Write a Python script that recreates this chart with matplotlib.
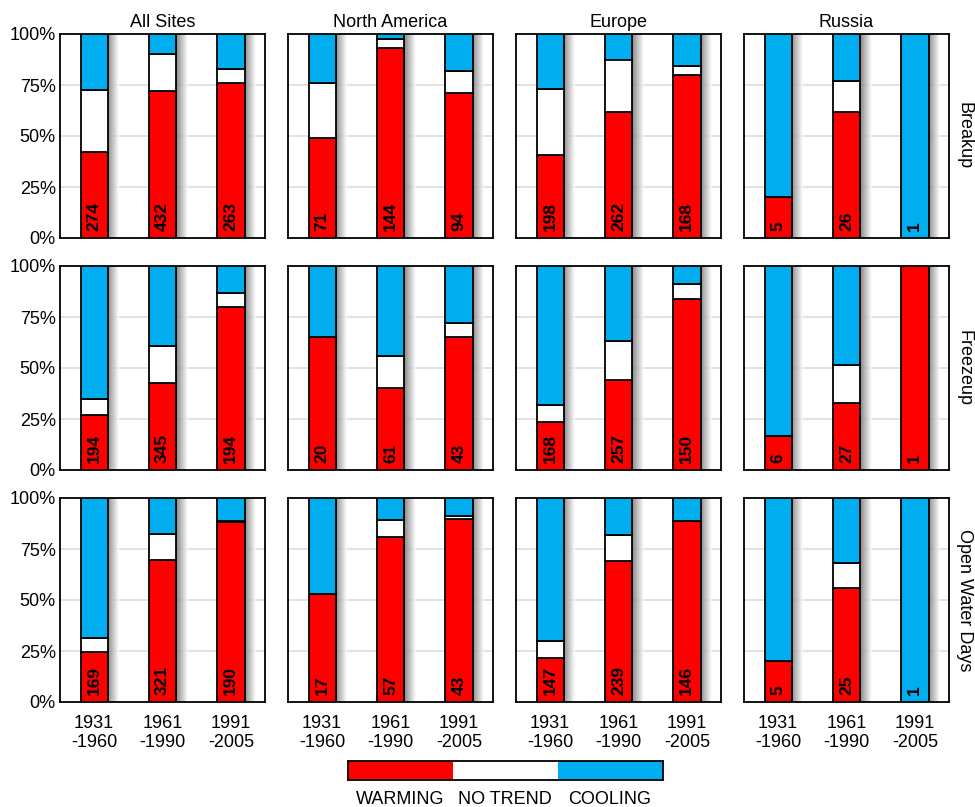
import numpy as np
import matplotlib
matplotlib.use("Agg")
import matplotlib.pyplot as plt

plt.rcParams['font.family'] = ['Liberation Sans', 'DejaVu Sans']

regions = ["All Sites", "North America", "Europe", "Russia"]
metrics = ["Breakup", "Freezeup", "Open Water Days"]
periods = ["1931\n-1960", "1961\n-1990", "1991\n-2005"]

# percent of sites per period, one list per region
breakup_warming = [[42, 72, 76], [49, 93, 71], [40.5, 62, 80], [20, 62, 0]]
breakup_notrend = [[30.5, 18, 7], [27, 4.5, 11], [32.5, 25.5, 4.5], [0, 15, 0]]
breakup_cooling = [[27.5, 10, 17], [24, 2.5, 18], [27, 12.5, 15.5], [80, 23, 100]]
breakup_counts = [[274, 432, 263], [71, 144, 94], [198, 262, 168], [5, 26, 1]]

freezeup_warming = [[27, 42.5, 80], [65, 40, 65], [23.5, 44, 84], [16.7, 33, 100]]
freezeup_notrend = [[8, 18.5, 7], [0, 16, 7], [8.5, 19, 7], [0, 18.6, 0]]
freezeup_cooling = [[65, 39, 13], [35, 44, 28], [68, 37, 9], [83.3, 48.4, 0]]
freezeup_counts = [[194, 345, 194], [20, 61, 43], [168, 257, 150], [6, 27, 1]]

openwater_warming = [[24.7, 69.6, 88.2], [53, 81, 89.5], [21.6, 69, 88.7], [20, 56, 0]]
openwater_notrend = [[6.5, 12.8, 0.5], [0, 8, 1.5], [8.4, 13, 0], [0, 12, 0]]
openwater_cooling = [[68.8, 17.6, 11.3], [47, 11, 9], [70, 18, 11.3], [80, 32, 100]]
openwater_counts = [[169, 321, 190], [17, 57, 43], [147, 239, 146], [5, 25, 1]]

legend_labels = ["WARMING", "NO TREND", "COOLING"]

RED = "#ff0000"
BLUE = "#00aeef"
colors = [RED, "white", BLUE]

rows = [
    (breakup_warming, breakup_notrend, breakup_cooling, breakup_counts),
    (freezeup_warming, freezeup_notrend, freezeup_cooling, freezeup_counts),
    (openwater_warming, openwater_notrend, openwater_cooling, openwater_counts),
]

W, H = 975, 807
fig = plt.figure(figsize=(W / 100, H / 100), dpi=100)

col_left = [60, 288, 516, 744]
row_top = [34, 266, 498]
pw, ph = 205, 204

bw = 0.4
FS = 13
shadow = np.linspace(0, 1, 32).reshape(1, -1)


def add_shadow(ax, x0, x1, y0, y1):
    ax.imshow(shadow, extent=[x0, x1, y0, y1], aspect='auto', cmap='gray',
              vmin=-0.6, vmax=1.0, alpha=0.8, zorder=1, interpolation='bilinear')


for r, (warm, notr, cool, cnt) in enumerate(rows):
    for c in range(4):
        left = col_left[c] / W
        bottom = (H - row_top[r] - ph) / H
        ax = fig.add_axes([left, bottom, pw / W, ph / H])
        x = np.arange(3)
        for i in x:
            add_shadow(ax, i + bw / 2 - 0.02, i + bw / 2 + 0.16, 0, 100)
            base = 0
            for seg, col in zip([warm[c][i], notr[c][i], cool[c][i]], colors):
                if seg > 0:
                    ax.bar(i, seg, bw, bottom=base, color=col, edgecolor='black',
                           linewidth=1.3, zorder=3)
                base += seg
            ax.text(i, 3.5, str(cnt[c][i]), rotation=90, ha='center', va='bottom',
                    fontsize=12.5, fontweight='bold', zorder=4)
        ax.set_xlim(-0.5, 2.5)
        ax.set_ylim(0, 100)
        ax.set_yticks([0, 25, 50, 75, 100])
        for g in [25, 50, 75]:
            ax.axhline(g, color='#dddddd', linewidth=1.2, zorder=0)
        ax.set_xticks(x)
        ax.tick_params(length=0, labelsize=FS, pad=3)
        if c == 0:
            ax.set_yticklabels(["0%", "25%", "50%", "75%", "100%"])
        else:
            ax.set_yticklabels([])
        if r == 2:
            ax.set_xticklabels(periods, linespacing=1.2)
            ax.tick_params(axis='x', pad=9)
        else:
            ax.set_xticklabels([])
        for s in ax.spines.values():
            s.set_linewidth(1.3)
            s.set_color('black')
        if r == 0:
            ax.set_title(regions[c], fontsize=FS, pad=5)
        if c == 3:
            ax.text(1.075, 0.5, metrics[r], transform=ax.transAxes, rotation=270,
                    ha='center', va='center', fontsize=FS)

# colour key along the bottom
lax = fig.add_axes([348 / W, (H - 780) / H, 315 / W, 19 / H])
for k, col in enumerate(colors):
    lax.barh(0, 1, left=k, height=1, color=col, edgecolor='none', zorder=2)
lax.set_xlim(0, 3)
lax.set_ylim(-0.5, 0.5)
lax.set_xticks([])
lax.set_yticks([])
for s in lax.spines.values():
    s.set_linewidth(1.3)
for k, lab in enumerate(legend_labels):
    fig.text((348 + 52 + k * 105) / W, 1 - 799 / H, lab, ha='center', va='center',
             fontsize=FS)

fig.savefig("out.png", dpi=100)
